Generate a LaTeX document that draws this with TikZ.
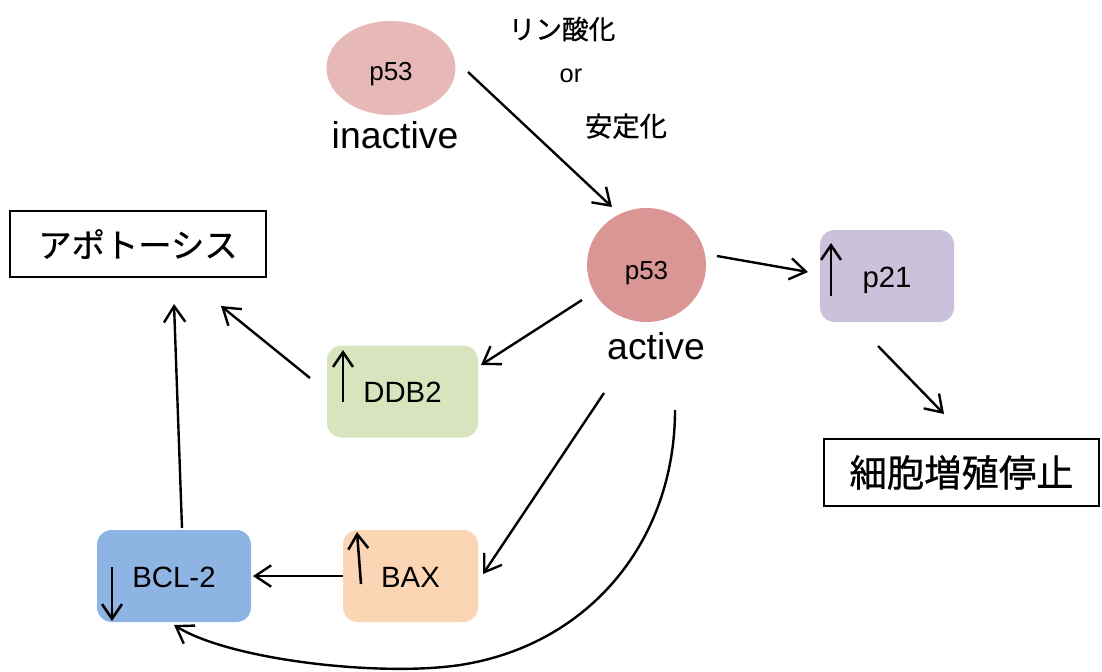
\documentclass[tikz,border=0pt]{standalone}
\usepackage{fontspec}
\setmainfont{Liberation Sans}
\newfontfamily\jp{Noto Sans CJK JP}[FakeBold=0.7]
\usetikzlibrary{arrows.meta,shapes.geometric}

\definecolor{inactfill}{HTML}{E6B9B8}
\definecolor{actfill}{HTML}{D99694}
\definecolor{pfill}{HTML}{CCC1DA}
\definecolor{gfill}{HTML}{D7E4BD}
\definecolor{ofill}{HTML}{FCD5B5}
\definecolor{bfill}{HTML}{8EB4E3}

\tikzset{
  conn/.style={line width=1.8pt, -{Straight Barb[length=12pt,width=16pt,line width=1.8pt]}},
  updown/.style={line width=1.9pt, -{Straight Barb[length=11pt,width=15pt,line width=1.9pt]}},
  genebox/.style={draw=none, rounded corners=11pt, inner sep=0pt,
    minimum height=69pt, font=\fontsize{22}{24}\selectfont,
    text height=17pt, text depth=0pt},
  outbox/.style={draw, line width=1.6pt, inner sep=0pt, minimum height=50pt},
  blob/.style={ellipse, draw=none, inner sep=0pt, text depth=0pt},
}

\begin{document}
\begin{tikzpicture}[x=0.75pt, y=-0.75pt]
  \useasboundingbox (0,0) rectangle (1102,671);

  % p53 states
  \node[blob, fill=inactfill, minimum width=96.75pt, minimum height=70.5pt,
        text height=18pt, font=\fontsize{19.5}{21}\selectfont] (inact) at (391,68) {p53};
  \node[anchor=base, font=\fontsize{28}{30}\selectfont] (inactlbl) at (395,148) {inactive};
  \node[blob, fill=actfill, minimum width=89.25pt, minimum height=85.5pt,
        text height=22pt, font=\fontsize{19.5}{21}\selectfont] (act) at (646.5,265) {p53};
  \node[anchor=base, font=\fontsize{28}{30}\selectfont] (actlbl) at (656,359) {active};

  % reaction label
  \node[font=\jp\fontsize{20}{22}\selectfont] (phos) at (562,29) {リン酸化};
  \node[font=\fontsize{19}{21}\selectfont] (orlbl) at (571,76) {or};
  \node[font=\jp\fontsize{20.5}{22}\selectfont] (stab) at (626,126) {安定化};

  % target genes
  \node[genebox, fill=pfill, minimum width=100.5pt] (p21) at (887,276) {p21};
  \node[genebox, fill=gfill, minimum width=113.25pt] (ddb) at (402.5,391.5) {DDB2};
  \node[genebox, fill=ofill, minimum width=101.25pt] (bax) at (410.5,576) {BAX};
  \node[genebox, fill=bfill, minimum width=115.5pt] (bcl) at (174,576) {BCL-2};

  % outcomes
  \node[outbox, minimum width=192pt, font=\jp\fontsize{25}{27}\selectfont] (apop) at (138,244) {アポトーシス};
  \node[outbox, minimum width=206.25pt, font=\jp\fontsize{28}{30}\selectfont] (arrest) at (961.5,472.5) {細胞増殖停止};

  % up/down markers
  \draw[updown] ([shift={(-56,20)}]p21.center) -- ([shift={(-56,-33)}]p21.center);
  \draw[updown] ([shift={(-59.5,10.5)}]ddb.center) -- ([shift={(-59.5,-41.5)}]ddb.center);
  \draw[updown] ([shift={(-49.5,8)}]bax.center) -- ([shift={(-53.5,-44)}]bax.center);
  \draw[updown] ([shift={(-62,-9)}]bcl.center) -- ([shift={(-62,45)}]bcl.center);

  % connectors
  \draw[conn] ([shift={(77,4)}]inact.center) -- ([shift={(-34.5,-58)}]act.center);
  \draw[conn] ([shift={(70.5,-9)}]act.center) -- ([shift={(-79,-4)}]p21.center);
  \draw[conn] ([shift={(-9,70)}]p21.center) -- ([shift={(-17.5,-58.5)}]arrest.center);
  \draw[conn] ([shift={(-64.5,35)}]act.center) -- ([shift={(78.5,-26.5)}]ddb.center);
  \draw[conn] ([shift={(-92.5,-13.5)}]ddb.center) -- ([shift={(83,62)}]apop.center);
  \draw[conn] ([shift={(-42.5,128)}]act.center) -- ([shift={(72.5,-2)}]bax.center);
  \draw[conn] ([shift={(-67.5,0)}]bax.center) -- ([shift={(79,0)}]bcl.center);
  \draw[conn] ([shift={(8,-48)}]bcl.center) -- ([shift={(36,60)}]apop.center);
  \draw[conn] ([shift={(28.5,145)}]act.center)
      .. controls (675,540) and (590,645) .. (460,665)
      .. controls (380,677) and (230,660) .. ([shift={(0,49)}]bcl.center);
\end{tikzpicture}
\end{document}
